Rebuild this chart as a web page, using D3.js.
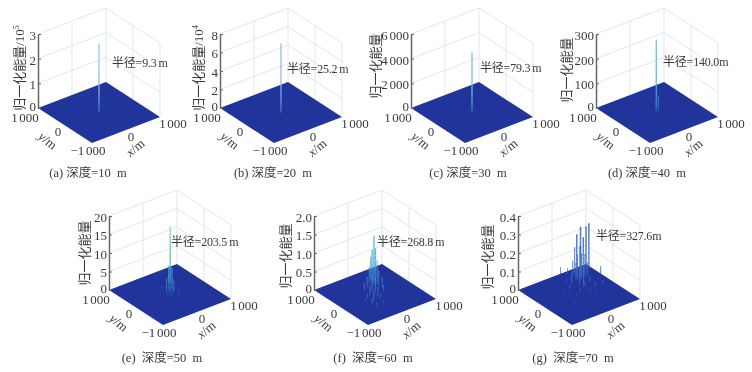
<!DOCTYPE html>
<html>
<head>
<meta charset="utf-8">
<script src="https://cdn.jsdelivr.net/npm/d3@7"></script>
<style>
  html, body { margin: 0; background: #fff; }
  svg { display: block; filter: blur(.4px); }
  text { font-family: "Liberation Serif", "Noto Sans CJK SC", serif; fill: #3a3a3a; word-spacing: -1.6px; }
  text.caption { word-spacing: 0; }
  text.radius { word-spacing: -.8px; letter-spacing: -.2px; }
</style>
</head>
<body>
<script>
var captions = ['(a) 深度=10\u00a0\u00a0m', '(b) 深度=20\u00a0\u00a0m', '(c) 深度=30\u00a0\u00a0m', '(d) 深度=40\u00a0\u00a0m',
  '(e)\u00a0\u00a0深度=50\u00a0\u00a0m', '(f)\u00a0\u00a0深度=60\u00a0\u00a0m', '(g)\u00a0\u00a0深度=70\u00a0\u00a0m']
var radii = ['半径=9.3 m', '半径=25.2 m', '半径=79.3 m', '半径=140.0m', '半径=203.5 m', '半径=268.8 m', '半径=327.6m']
var zUnits = ['5', '4', '', '', '', '', '']
var zTicks = [
  [0, 1, 2, 3],
  [0, 2, 4, 6, 8],
  [0, 2000, 4000, 6000],
  [0, 100, 200, 300],
  [0, 5, 10, 15, 20],
  [0, .5, 1, 1.5, 2],
  [0, .1, .2, .3, .4]
]
var zLabels = [
  ['0', '1', '2', '3'],
  ['0', '2', '4', '6', '8'],
  ['0', '2 000', '4 000', '6 000'],
  ['0', '100', '200', '300'],
  ['0', '5', '10', '15', '20'],
  ['0', '0.5', '1.0', '1.5', '2.0'],
  ['0', '0.1', '0.2', '0.3', '0.4']
]
var groundTicks = [-1000, 0, 1000]

// [x, y, energy]
var peaksA = [[0, 0, 2.8]]
var peaksB = [[0, 0, 7.5]]
var peaksC = [[0, 0, 4850]]
var peaksD = [[60, 100, 285], [40, 70, 70], [70, 40, 60], [-10, 30, 45], [30, -10, 40], [-30, -30, 22],
  [-60, 10, 14], [10, -60, 14], [-80, -80, 7], [-120, -40, 6], [-40, -120, 6]]
var peaksE = [[150, 180, 17], [120, 200, 6.5], [170, 140, 6], [60, 120, 4.5], [110, 60, 4], [-20, 100, 4],
  [100, -20, 3.5], [30, -80, 2.5], [-80, 30, 2.5], [-60, -60, 2.5], [-100, -180, 1.5], [-180, -120, 1.4],
  [50, -240, 1.5], [-250, 50, 1.2], [200, -100, 1.2], [-60, 220, 1.5], [-280, -200, .6], [-150, -320, .7],
  [100, -330, .6], [-330, -60, .6], [280, -220, .5]]
var peaksF = [[240, 340, 1.34], [260, 490, .69], [230, 400, .93], [290, 350, .98], [270, 260, .71],
  [150, 400, .5], [240, 160, .49], [0, 290, .34], [280, 80, .34], [5, 110, .47], [10, 0, .44],
  [-140, 220, .25], [190, -80, .22], [-180, -40, .33], [-60, -180, .31], [-250, -270, .33],
  [-310, -110, .19], [-70, -290, .19], [-390, -390, .22], [-360, -530, .17], [-430, -190, .14], [-150, -510, .14]]
var peaksG = [[910, 780, .247], [857, 820, .23], [640, 750, .25], [570, 800, .21], [607, 605, .21],
  [476, 760, .15], [380, 710, .09], [250, 1000, .035], [330, 840, .04], [1000, 460, .04],
  [460, 540, .18], [430, 450, .15], [580, 510, .13], [650, 510, .08], [380, 540, .14], [300, 490, .105],
  [250, 300, .1], [270, 170, .09], [110, 410, .065], [500, 230, .045],
  [-380, 100, .02], [-70, 250, .03], [30, 0, .03], [480, 10, .03], [690, -20, .03], [-190, -520, .02],
  [-400, -360, .02], [80, -600, .02], [-310, 430, .015], [70, 550, .025], [220, -130, .025],
  [260, -270, .02], [-130, -80, .02], [300, 150, .035]]
var allPeaks = [peaksA, peaksB, peaksC, peaksD, peaksE, peaksF, peaksG]

// colour along a spike, bottom to top, per panel
var ramps = [
  ['#20349b', '#4f86d0', '#8fb6e6', '#a8c6ec'],
  ['#20349b', '#4f8fc8', '#84b6dc', '#93bfe0'],
  ['#20349b', '#3f9cc4', '#6cbcd4', '#7cc4d8'],
  ['#20349b', '#2f6cc0', '#45b6d0', '#62c6d2'],
  ['#20349b', '#3468c0', '#44c4c4', '#a6e0a8'],
  ['#20349b', '#3f74c8', '#4fa8d8', '#5cc6c0'],
  ['#20349b', '#4474c8', '#3a68c4', '#2c4c9c']
]

// bottom corner of each floor (x=-1000, y=-1000), and its edge vectors
var origins = [[92, 143], [274, 143], [465, 143], [650, 143], [163, 325], [368, 325], [572, 325]]
var xEdge = [68, -26]
var yEdge = [-54, -35]
var wallHeight = 74
var radiusPos = [[112, 67], [287, 73], [480, 72], [663, 66], [171, 246], [377, 246], [596, 240]]
var zTitlePos = [[19, 68], [198, 68], [375, 66], [566, 70], [84, 253], [285, 256], [487, 257]]
var captionPos = [[88, 177], [273, 177], [468, 177], [647, 177], [162, 362], [373, 362], [573, 362]]

var svg = d3.select('body').append('svg').attr('width', 752).attr('height', 372)

var groundT = d3.scaleLinear().domain([-1000, 1000]).range([0, 1])

captions.forEach((caption, i) => {
  var g = svg.append('g')
  var [ox, oy] = origins[i]
  var ticks = zTicks[i]
  var zMax = d3.max(ticks)
  var z = d3.scaleLinear().domain([0, zMax]).range([0, wallHeight])
  var color = d3.scaleLinear().domain([0, .06, .3, 1].map(d => d*zMax)).range(ramps[i])

  var project = (x, y, e) => [
    ox + groundT(x)*xEdge[0] + groundT(y)*yEdge[0],
    oy + groundT(x)*xEdge[1] + groundT(y)*yEdge[1] - z(e)
  ]
  var line = d3.line()

  // walls
  var wallLines = []
  ticks.slice(1).forEach(t => {
    wallLines.push([project(-1000, 1000, t), project(1000, 1000, t)])
    wallLines.push([project(1000, 1000, t), project(1000, -1000, t)])
  })
  ;[[0, 1000], [1000, 1000], [1000, 0], [1000, -1000]].forEach(([x, y]) => {
    wallLines.push([project(x, y, 0), project(x, y, zMax)])
  })
  g.selectAll('path.wall').data(wallLines).join('path').attr('class', 'wall')
    .attr('d', line).attr('fill', 'none').attr('stroke', '#dbe9ee').attr('stroke-width', 1)

  // floor
  g.append('path')
    .attr('d', line([project(-1000, -1000, 0), project(1000, -1000, 0), project(1000, 1000, 0), project(-1000, 1000, 0)]) + 'Z')
    .attr('fill', '#20349b')

  // spikes, back to front
  var peaks = allPeaks[i].slice().sort((a, b) => (b[0] + b[1]) - (a[0] + a[1]))
  var segments = []
  peaks.forEach(([x, y, e]) => {
    d3.range(10).forEach(s => {
      segments.push({
        d: line([project(x, y, e*s/10), project(x, y, e*(s + 1)/10)]),
        c: color(e*(s + .5)/10),
        w: e > .4*zMax ? 1.5 : 1.1
      })
    })
  })
  g.selectAll('path.spike').data(segments).join('path').attr('class', 'spike')
    .attr('d', d => d.d).attr('fill', 'none').attr('stroke', d => d.c).attr('stroke-width', d => d.w)
    .attr('stroke-opacity', .85)

  // energy axis on the left corner
  var [ax, ay] = project(-1000, 1000, 0)
  var zAxis = d3.axisLeft(d3.scaleLinear().domain([0, zMax]).range([ay, ay - wallHeight]))
    .tickValues(ticks)
    .tickFormat((d, j) => zLabels[i][j])
    .tickSizeInner(-3)
    .tickSizeOuter(0)
    .tickPadding(2)
  var axisSel = g.append('g').attr('transform', `translate(${ax},0)`).call(zAxis)
  axisSel.attr('font-family', null).attr('font-size', 13)
  axisSel.select('.domain').attr('stroke', '#666').attr('stroke-width', 1.5)
  axisSel.selectAll('.tick line').attr('stroke', '#666')
  axisSel.selectAll('.tick text').attr('fill', null).attr('dy', (d, j) => j == 0 ? '0.16em' : '0.42em')

  // floor tick labels
  groundTicks.forEach(t => {
    var [px, py] = project(t, -1000, 0)
    if (t > -1000) g.append('text').text(t == 0 ? '0' : '1 000')
      .attr('x', px + (t == 0 ? 5 : 13)).attr('y', py + 11)
      .attr('text-anchor', 'middle').attr('font-size', 13)
    var [qx, qy] = project(-1000, t, 0)
    var label = t == -1000 ? '\u22121 000' : t == 0 ? '0' : '1 000'
    var off = t == -1000 ? [-4, 12] : t == 0 ? [-7, 10] : [-13, 14]
    g.append('text').text(label)
      .attr('x', qx + off[0]).attr('y', qy + off[1])
      .attr('text-anchor', 'middle').attr('font-size', 13)
  })

  // floor axis names
  var xName = g.append('text').attr('text-anchor', 'middle').attr('font-size', 13)
    .attr('transform', `translate(${ox + 46},${oy + 8}) rotate(-40)`)
  xName.append('tspan').attr('font-style', 'italic').text('x')
  xName.append('tspan').text('/m')
  var yName = g.append('text').attr('text-anchor', 'middle').attr('font-size', 13)
    .attr('transform', `translate(${ox - 47},${oy + 1}) rotate(40)`)
  yName.append('tspan').attr('font-style', 'italic').text('y')
  yName.append('tspan').text('/m')

  // energy axis name
  var zName = g.append('text').attr('text-anchor', 'middle').attr('font-size', 13)
    .attr('transform', `translate(${zTitlePos[i][0] + 5},${zTitlePos[i][1]}) rotate(-90)`)
    .text('归一化能量' + (zUnits[i] ? '/10' : ''))
  if (zUnits[i]) zName.append('tspan').attr('font-size', 8).attr('dy', -5).text(zUnits[i])

  g.append('text').attr('class', 'radius').text(radii[i])
    .attr('x', radiusPos[i][0]).attr('y', radiusPos[i][1]).attr('font-size', 12)

  g.append('text').attr('class', 'caption').text(caption)
    .attr('x', captionPos[i][0]).attr('y', captionPos[i][1])
    .attr('text-anchor', 'middle').attr('font-size', 12.5)
})
</script>
</body>
</html>
